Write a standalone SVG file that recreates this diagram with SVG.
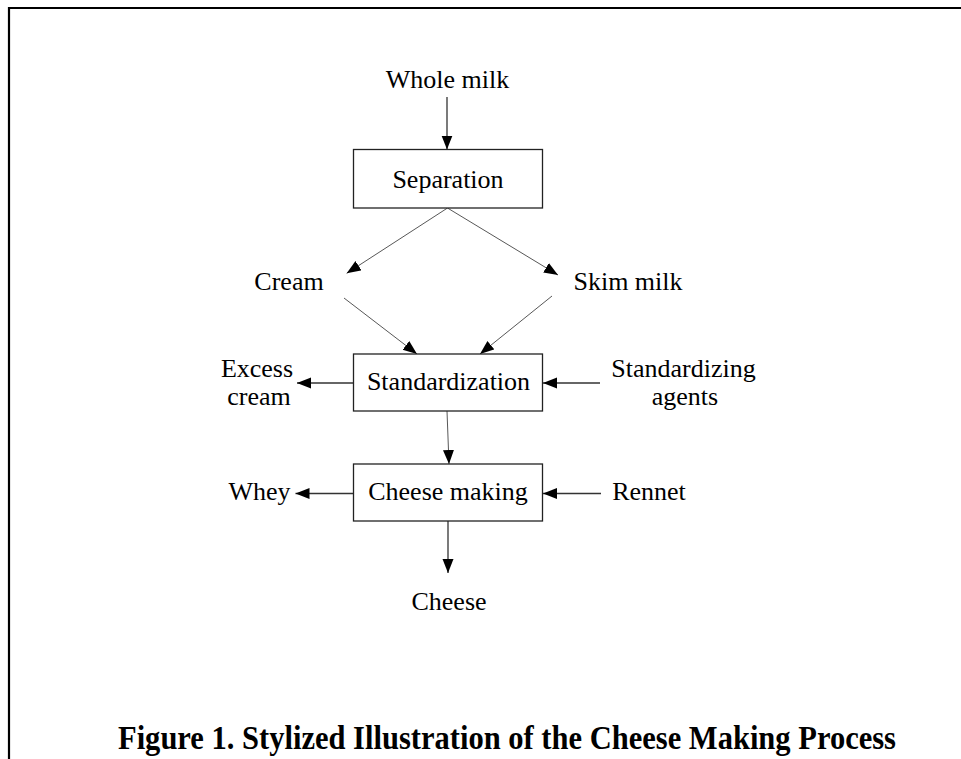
<svg xmlns="http://www.w3.org/2000/svg" width="961" height="759" viewBox="0 0 961 759">
  <style>
    .lbl { font-family: "Liberation Serif", "Times New Roman", serif; font-size: 26px; fill: #000; text-anchor: middle; }
    .cap { font-family: "Liberation Serif", "Times New Roman", serif; font-size: 33px; font-weight: bold; fill: #000; }
    .box { fill: #fff; stroke: #222; stroke-width: 1.3; }
    .ln { fill: none; stroke: #333; stroke-width: 1.3; marker-end: url(#ah); }
    .thin { stroke-width: 0.9; stroke: #444; }
    .frame { fill: none; stroke: #000; stroke-width: 2.2; }
  </style>
  <defs>
    <marker id="ah" markerUnits="userSpaceOnUse" markerWidth="15" markerHeight="12" refX="14" refY="5.5" orient="auto">
      <path d="M0,0 L14,5.5 L0,11 z" fill="#000"/>
    </marker>
  </defs>
  <rect width="961" height="759" fill="#fff"/>
  <path class="frame" d="M9,759 L9,8 L961,8"/>

  <g id="connectors">
    <line class="ln" x1="447" y1="97" x2="447" y2="149.5"/>
    <line class="ln thin" x1="447.5" y1="208" x2="346.7" y2="273.3"/>
    <line class="ln thin" x1="447.5" y1="208" x2="558" y2="275"/>
    <line class="ln thin" x1="344" y1="298" x2="417" y2="354"/>
    <line class="ln thin" x1="552" y1="296" x2="480" y2="354"/>
    <line class="ln" x1="353" y1="383" x2="297" y2="383"/>
    <line class="ln" x1="600" y1="383" x2="543" y2="383"/>
    <line class="ln thin" x1="447" y1="411" x2="449" y2="464"/>
    <line class="ln" x1="353" y1="493.5" x2="295.5" y2="493.5"/>
    <line class="ln" x1="601" y1="493.5" x2="543" y2="493.5"/>
    <line class="ln" x1="448" y1="521" x2="448" y2="573"/>
  </g>

  <g id="whole-milk"><text class="lbl" x="447.5" y="88">Whole milk</text></g>
  <g id="separation">
    <rect class="box" x="353.5" y="149.5" width="189" height="58.5"/>
    <text class="lbl" x="448" y="188">Separation</text>
  </g>
  <g id="cream"><text class="lbl" x="289" y="290">Cream</text></g>
  <g id="skim-milk"><text class="lbl" x="628" y="290">Skim milk</text></g>
  <g id="standardization">
    <rect class="box" x="353.5" y="354" width="189" height="57"/>
    <text class="lbl" x="448.5" y="390">Standardization</text>
  </g>
  <g id="excess-cream">
    <text class="lbl" x="257" y="377">Excess</text>
    <text class="lbl" x="259" y="405">cream</text>
  </g>
  <g id="standardizing-agents">
    <text class="lbl" x="683.5" y="377">Standardizing</text>
    <text class="lbl" x="685" y="405">agents</text>
  </g>
  <g id="cheese-making">
    <rect class="box" x="353.5" y="464" width="189" height="57"/>
    <text class="lbl" x="448" y="500">Cheese making</text>
  </g>
  <g id="whey"><text class="lbl" x="259.5" y="500">Whey</text></g>
  <g id="rennet"><text class="lbl" x="649" y="500">Rennet</text></g>
  <g id="cheese"><text class="lbl" x="449" y="610">Cheese</text></g>

  <text class="cap" x="118" y="749" textLength="778" lengthAdjust="spacingAndGlyphs">Figure 1. Stylized Illustration of the Cheese Making Process</text>
</svg>
